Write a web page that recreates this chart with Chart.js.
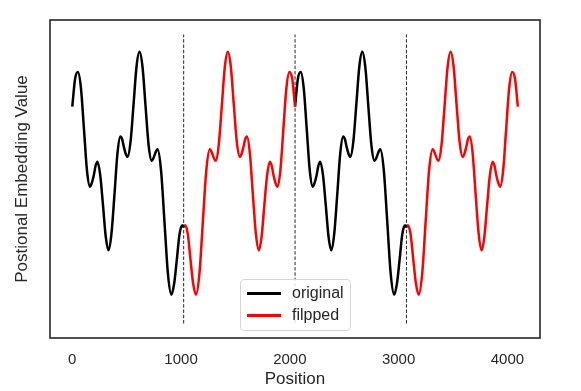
<!DOCTYPE html>
<html>
<head>
<meta charset="utf-8">
<script src="https://cdn.jsdelivr.net/npm/chart.js@4.4.1/dist/chart.umd.min.js"></script>
<style>
  body { margin: 0; background: #fff; }
  #wrap { position: relative; width: 581px; height: 391px; }
  #legendBox {
    position: absolute; left: 240px; top: 279px; width: 109px; height: 50px;
    border: 1px solid #d6d6d6; border-radius: 4px; background: rgba(255,255,255,0.85);
    font-family: "Liberation Sans", Arial, sans-serif; font-size: 16px; color: #262626;
  }
  .row { position: absolute; left: 0; height: 20px; line-height: 20px; }
  .row span.swatch { position: absolute; left: 6px; top: 9px; width: 34px; height: 2.5px; }
  .row span.txt { position: absolute; left: 51px; top: 0; white-space: nowrap; }
</style>
</head>
<body>
<div id="wrap">
  <canvas id="chart" width="581" height="391"></canvas>
  <div id="legendBox">
    <div class="row" style="top:3px"><span class="swatch" style="background:#000"></span><span class="txt">original</span></div>
    <div class="row" style="top:25px"><span class="swatch" style="background:#ff0000"></span><span class="txt">filpped</span></div>
  </div>
</div>
<script>
const originalPositions = [0, 26, 52, 80, 108, 135, 163, 180, 198, 215, 232, 257, 283, 308, 333, 360, 388, 415, 442, 459,
  475, 492, 508, 536, 563, 591, 618, 646, 674, 702, 730, 744, 757, 771, 784, 816, 848, 879, 911, 936, 961, 985, 1010, 1024];
const originalValues = [0.75, 1.04, 1.11, 0.94, 0.51, 0.09, -0.08, -0.04, 0.04, 0.14, 0.18, 0.04, -0.28, -0.60, -0.74, -0.57, -0.16, 0.26, 0.44, 0.41,
  0.33, 0.26, 0.23, 0.39, 0.77, 1.17, 1.32, 1.16, 0.75, 0.35, 0.19, 0.21, 0.25, 0.29, 0.31, 0.09, -0.45, -0.98, -1.20, -1.09, -0.84, -0.58, -0.48, -0.50];

// first red segment (1024..2048)
const flippedPositions = [1024, 1038, 1063, 1087, 1112, 1137, 1169, 1200, 1232, 1264, 1277, 1291, 1304, 1318, 1346, 1374, 1402, 1430, 1457, 1485,
  1512, 1540, 1556, 1573, 1589, 1606, 1633, 1660, 1688, 1715, 1740, 1765, 1791, 1816, 1833, 1850, 1868, 1885, 1913, 1940, 1968, 1996, 2022, 2048];
const flippedValues = [-0.50, -0.48, -0.58, -0.84, -1.09, -1.20, -0.98, -0.45, 0.09, 0.31, 0.29, 0.25, 0.21, 0.19, 0.35, 0.75, 1.16, 1.32, 1.17, 0.77,
  0.39, 0.23, 0.26, 0.33, 0.41, 0.44, 0.26, -0.16, -0.57, -0.74, -0.60, -0.28, 0.04, 0.18, 0.14, 0.04, -0.04, -0.08, 0.09, 0.51, 0.94, 1.11, 1.04, 0.75];

// the pattern is drawn twice
const repeatOffsets = [0, 2048];
const boundaries = [1024, 2048, 3072];
const boundaryRange = [-1.5, 1.5];
const xTicks = [0, 1000, 2000, 3000, 4000];

function toPoints(xs, ys, offset) {
  return xs.map((x, i) => ({ x: x + offset, y: ys[i] }));
}

const datasets = [];
repeatOffsets.forEach(off => {
  datasets.push({
    label: 'original', data: toPoints(originalPositions, originalValues, off),
    borderColor: '#000000', borderWidth: 2.5, pointRadius: 0, cubicInterpolationMode: 'monotone'
  });
  datasets.push({
    label: 'filpped', data: toPoints(flippedPositions, flippedValues, off),
    borderColor: '#ff0000', borderWidth: 2.5, pointRadius: 0, cubicInterpolationMode: 'monotone'
  });
});
boundaries.forEach(b => {
  datasets.push({
    label: 'boundary', data: boundaryRange.map(v => ({ x: b, y: v })),
    borderColor: '#262626', borderWidth: 1, borderDash: [3.5, 1.8], pointRadius: 0
  });
});

const frame = {
  id: 'frame',
  afterDraw(chart) {
    const { ctx, chartArea: a } = chart;
    ctx.save();
    ctx.strokeStyle = '#262626';
    ctx.lineWidth = 1.6;
    ctx.strokeRect(a.left, a.top, a.right - a.left, a.bottom - a.top);
    ctx.restore();
  }
};

new Chart(document.getElementById('chart'), {
  type: 'line',
  data: { datasets: datasets },
  plugins: [frame],
  options: {
    responsive: false,
    animation: false,
    layout: { padding: { left: 0, top: 20, right: 41, bottom: 0 } },
    plugins: { legend: { display: false }, tooltip: { enabled: false } },
    scales: {
      x: {
        type: 'linear', min: -204.75, max: 4299.75,
        grid: { display: false, drawTicks: false }, border: { display: false },
        afterBuildTicks: s => { s.ticks = xTicks.map(v => ({ value: v })); },
        afterFit: s => { s.height = 53; },
        ticks: { padding: 13, color: '#262626', maxRotation: 0,
          callback: v => String(v),
          font: { family: '"Liberation Sans", Arial, sans-serif', size: 15 } },
        title: { display: true, text: 'Position', color: '#262626', padding: { top: 0, bottom: 1 },
          font: { family: '"Liberation Sans", Arial, sans-serif', size: 17 } }
      },
      y: {
        min: -1.65, max: 1.65,
        grid: { display: false }, border: { display: false },
        ticks: { display: false },
        afterFit: s => { s.width = 50; },
        title: { display: true, text: 'Postional Embedding Value', color: '#262626', padding: { top: 12, bottom: 0 },
          font: { family: '"Liberation Sans", Arial, sans-serif', size: 17 } }
      }
    }
  }
});
</script>
</body>
</html>
